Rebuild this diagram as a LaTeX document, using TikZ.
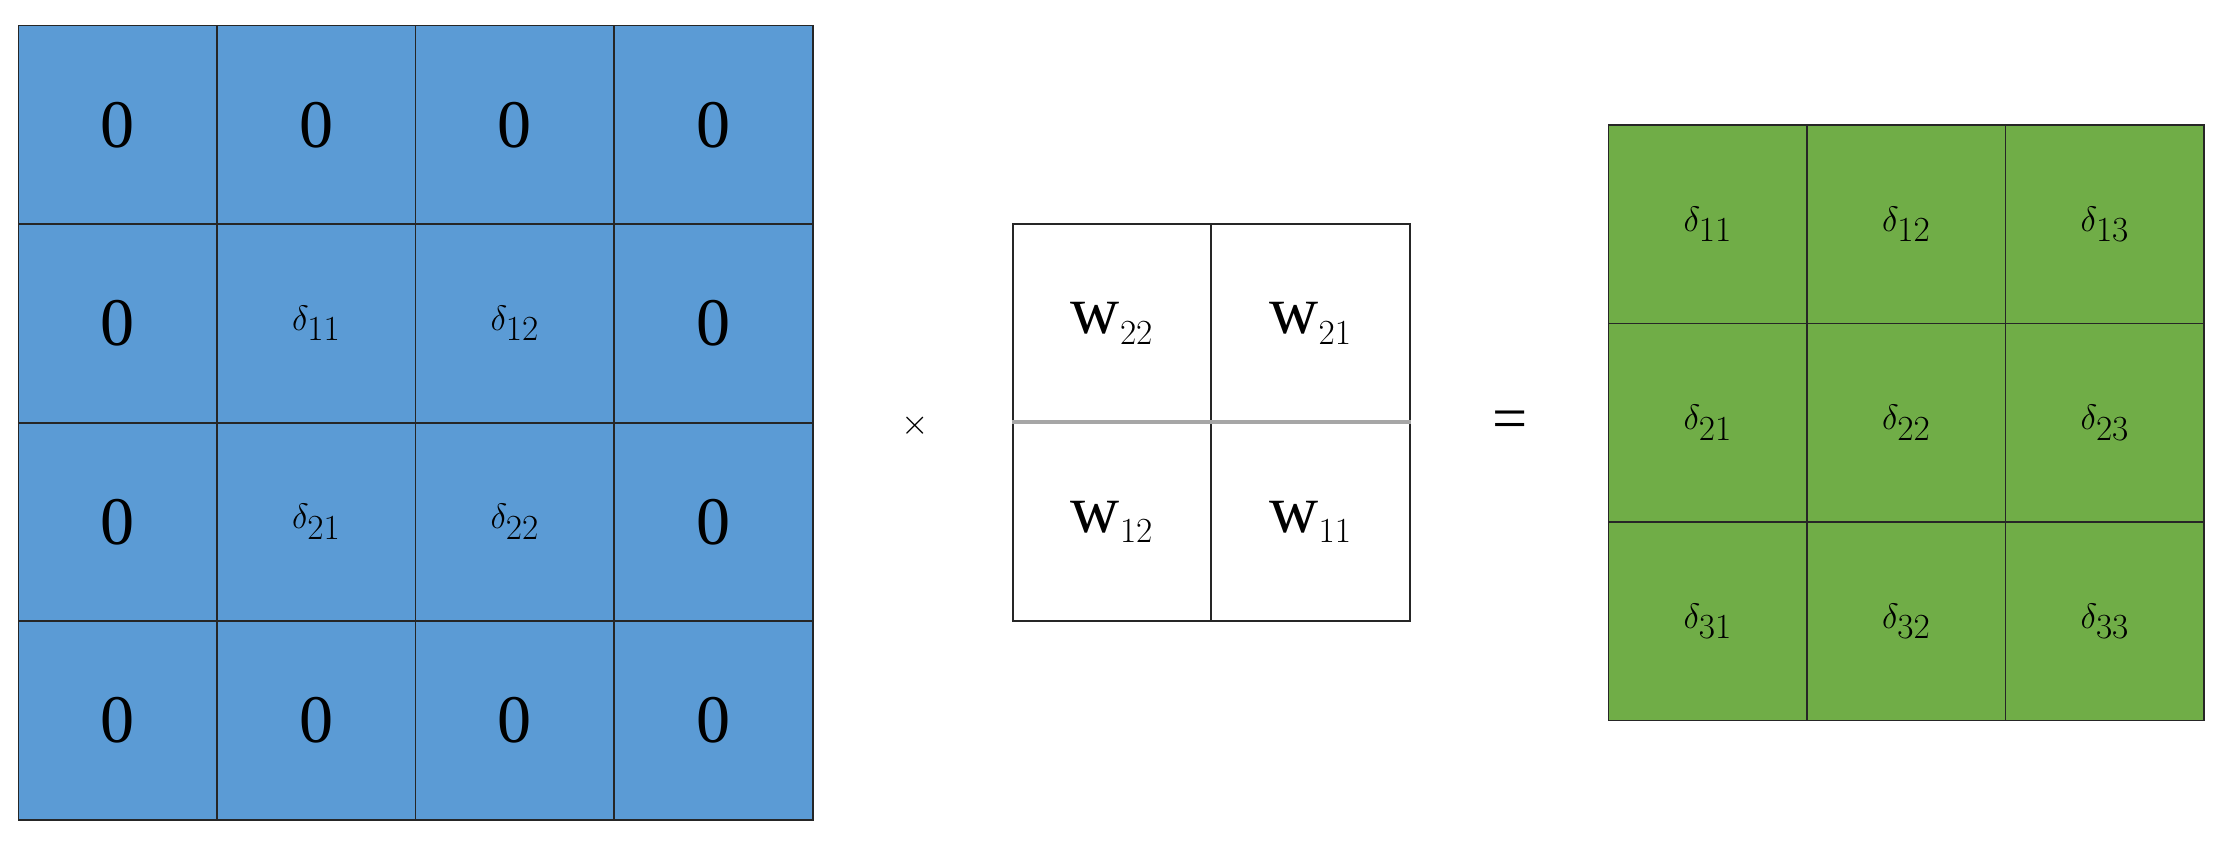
\documentclass[tikz,border=0pt]{standalone}
\usepackage{fontspec}
\setmainfont{Liberation Serif}
\definecolor{blu}{HTML}{5B9BD5}
\definecolor{grn}{HTML}{70AD47}
\tikzset{cell/.style={draw=black!85,line width=1.2pt,minimum size=140pt,inner sep=0pt,anchor=center,font=\fontsize{48}{56}\selectfont}}
\begin{document}
\begin{tikzpicture}[x=1pt,y=-1pt]
\useasboundingbox (0,0) rectangle (1568,606);
% blue 4x4
\foreach \r/\row in {0/{0,0,0,0},1/{0,$\delta_{11}$,$\delta_{12}$,0},2/{0,$\delta_{21}$,$\delta_{22}$,0},3/{0,0,0,0}}{
  \foreach \t [count=\c from 0] in \row {
    \node[cell,fill=blu] (b\r\c) at (83+140*\c,88+140*\r) {\t};
  }
}
% white 2x2
\node[cell,fill=white] (w00) at (784,228) {w$_{22}$};
\node[cell,fill=white] (w01) at (924,228) {w$_{21}$};
\node[cell,fill=white] (w10) at (784,368) {w$_{12}$};
\node[cell,fill=white] (w11) at (924,368) {w$_{11}$};
\draw[gray!70,line width=2.5pt] (w10.north west) -- (w11.north east);
% green 3x3
\foreach \r in {1,2,3}{
  \foreach \c in {1,2,3}{
    \node[cell,fill=grn] (g\r\c) at (1204+140*\c-140,158+140*\r-140) {$\delta_{\r\c}$};
  }
}
\node[font=\fontsize{36}{40}\selectfont] (times) at (645,300) {$\times$};
\node[font=\fontsize{44}{50}\selectfont] (eq) at (1065,300) {=};
\end{tikzpicture}
\end{document}
